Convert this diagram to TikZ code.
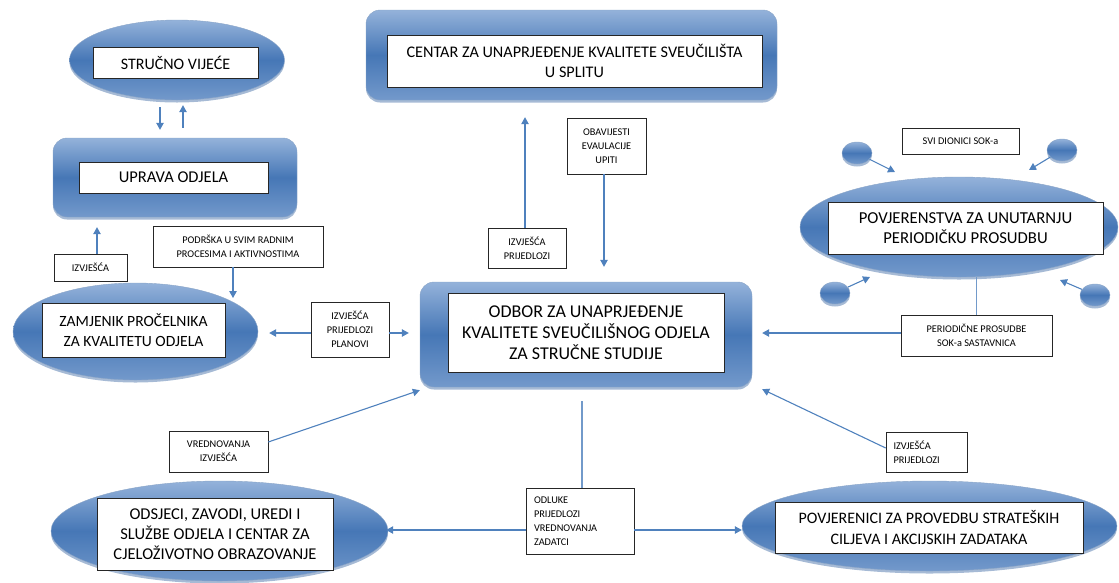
\documentclass[tikz,border=0pt]{standalone}
\usepackage{fontspec}
\setmainfont{Carlito}
\usetikzlibrary{arrows.meta,shapes.geometric,shadows,calc}
\definecolor{blueD}{HTML}{4677B6}
\definecolor{blueL}{HTML}{94B2DA}
\definecolor{blueB}{HTML}{7399CB}
\definecolor{blueE}{HTML}{3A67A2}
\definecolor{arrowc}{HTML}{4F81BD}
\begin{document}
\begin{tikzpicture}[x=1pt,y=-1pt,
  shade3d/.style={top color=blueL, bottom color=blueB, middle color=blueD,
    draw=blueE!60, line width=0.4pt,
    drop shadow={shadow xshift=0pt, shadow yshift=-2.5pt, opacity=0.45, fill=blueE}},
  blob/.style={ellipse, shade3d, inner sep=0pt},
  panel/.style={rectangle, rounded corners=14pt, shade3d, inner sep=0pt},
  inbox/.style={rectangle, draw=black!85, line width=0.7pt, fill=white, align=center, inner sep=1pt},
  lbl/.style={rectangle, draw=black!85, line width=0.6pt, fill=white, align=center, inner sep=1pt,
    font=\fontsize{10.3}{14}\selectfont},
  arr/.style={draw=arrowc, line width=1.1pt, -{Triangle[length=7pt,width=7.5pt]}},
  ln/.style={draw=arrowc!80, line width=1.1pt},
  dot/.style={ellipse, shade3d, minimum width=30pt, minimum height=22pt, inner sep=0pt}
]
\useasboundingbox (0,0) rectangle (1119,582);

% main shapes
\node[blob, minimum width=215pt, minimum height=80pt] (sv) at (177,60) {};
\node[inbox, font=\fontsize{16}{20}\selectfont, minimum width=165pt, minimum height=31pt] (svt) at (175.5,62.5) {STRUČNO VIJEĆE};

\node[panel, minimum width=244pt, minimum height=79pt] (up) at (175,177.5) {};
\node[inbox, font=\fontsize{16.5}{20}\selectfont, minimum width=189pt, minimum height=31pt] (upt) at (173.5,177.5) {UPRAVA ODJELA};

\node[blob, minimum width=245pt, minimum height=97pt] (zam) at (135.5,331.5) {};
\node[inbox, font=\fontsize{15.6}{20}\selectfont, minimum width=183pt, minimum height=54pt] (zamt) at (133.5,330) {ZAMJENIK PROČELNIKA\\ZA KVALITETU ODJELA};

\node[panel, minimum width=411pt, minimum height=90pt] (cen) at (571.5,55) {};
\node[inbox, font=\fontsize{16.2}{20}\selectfont, minimum width=375pt, minimum height=52pt] (cent) at (574.5,61) {CENTAR ZA UNAPRJEĐENJE KVALITETE SVEUČILIŠTA\\U SPLITU};

\node[panel, minimum width=332pt, minimum height=105pt] (od) at (586,334.5) {};
\node[inbox, font=\fontsize{18}{21}\selectfont, minimum width=276pt, minimum height=79pt] (odt) at (586,332.5) {ODBOR ZA UNAPRJEĐENJE\\KVALITETE SVEUČILIŠNOG ODJELA\\ZA STRUČNE STUDIJE};

\node[blob, minimum width=318pt, minimum height=100pt] (pov) at (959,227) {};
\node[inbox, font=\fontsize{16.7}{20.5}\selectfont, minimum width=275pt, minimum height=52pt] (povt) at (965.5,228) {POVJERENSTVA ZA UNUTARNJU\\PERIODIČKU PROSUDBU};

\node[blob, minimum width=337pt, minimum height=100pt] (ods) at (219.5,531) {};
\node[inbox, font=\fontsize{16.5}{20}\selectfont, minimum width=236pt, minimum height=72pt] (odst) at (215,534) {ODSJECI, ZAVODI, UREDI I\\SLUŽBE ODJELA I CENTAR ZA\\CJELOŽIVOTNO OBRAZOVANJE};

\node[blob, minimum width=375pt, minimum height=90pt] (pvn) at (929.5,526) {};
\node[inbox, font=\fontsize{16}{21}\selectfont, minimum width=308pt, minimum height=51pt] (pvnt) at (929,527.5) {POVJERENICI ZA PROVEDBU STRATEŠKIH\\CILJEVA I AKCIJSKIH ZADATAKA};

% small dots
\node[dot] (c1) at (857,153) {};
\node[dot] (c2) at (1062,150) {};
\node[dot] (c3) at (835,293) {};
\node[dot] (c4) at (1095,295) {};

% labels
\node[lbl, minimum width=73pt, minimum height=27pt] (izv1) at (90.5,267.5) {IZVJEŠĆA};
\node[lbl, minimum width=170pt, minimum height=41pt] (podr) at (238,246.5) {PODRŠKA U SVIM RADNIM\\PROCESIMA I AKTIVNOSTIMA};
\node[lbl, minimum width=78pt, minimum height=55pt] (plan) at (350,329.5) {IZVJEŠĆA\\PRIJEDLOZI\\PLANOVI};
\node[lbl, minimum width=78pt, minimum height=40pt] (ip1) at (527,248) {IZVJEŠĆA\\PRIJEDLOZI};
\node[lbl, minimum width=79pt, minimum height=56pt] (obav) at (606.5,146) {OBAVIJESTI\\EVAULACIJE\\UPITI};
\node[lbl, minimum width=117pt, minimum height=26pt] (svi) at (960.5,141) {SVI DIONICI SOK-a};
\node[lbl, minimum width=151pt, minimum height=41pt] (per) at (976.5,335.5) {PERIODIČNE PROSUDBE\\SOK-a SASTAVNICA};
\node[lbl, minimum width=99pt, minimum height=41pt] (vred) at (218.5,451.5) {VREDNOVANJA\\IZVJEŠĆA};
\node[lbl, minimum width=108pt, minimum height=66pt, align=left, text width=92pt] (odl) at (580,521) {ODLUKE\\PRIJEDLOZI\\VREDNOVANJA\\ZADATCI};
\node[lbl, minimum width=81pt, minimum height=40pt, align=left, text width=66pt] (ip2) at (926.5,452) {IZVJEŠĆA\\PRIJEDLOZI};

% tips of floating arrows
\coordinate (d1) at (233,298);
\coordinate (t1) at (895,172);
\coordinate (t2) at (1029,170);
\coordinate (t3) at (870,277);
\coordinate (t4) at (1060,280);

% connectors
\draw[arr, shorten <=7pt, shorten >=8pt] ([xshift=-17pt]sv.south) -- ([xshift=-15pt]up.north);
\draw[arr, shorten <=10pt, shorten >=5pt] ([xshift=8pt]up.north) -- ([xshift=6pt]sv.south);
\draw[arr, shorten >=10pt] ([xshift=6.5pt]izv1.north) -- ([xshift=6.5pt]izv1.north |- up.south);
\draw[arr] ([xshift=-5pt]podr.south) -- (d1);
\draw[arr, shorten >=11pt] ([yshift=-3.5pt]plan.west) -- ([yshift=-3.5pt]plan.west -| zam.east);
\draw[arr, shorten >=11pt] ([yshift=-3.5pt]plan.east) -- ([yshift=-3.5pt]plan.east -| od.west);
\draw[arr, shorten >=17pt] ([xshift=-2pt]ip1.north) -- ([xshift=-2pt]ip1.north |- cen.south);
\draw[arr, shorten >=15pt] ([xshift=-2.5pt]obav.south) -- ([xshift=-2.5pt]obav.south |- od.north);
\draw[arr, shorten >=10pt] ([yshift=2.5pt]per.west) -- ([yshift=2.5pt]per.west -| od.east);
\draw[ln] (per.north) -- (per.north |- pov.south);
\draw[arr] (c1) -- (t1);
\draw[arr] (c2) -- (t2);
\draw[arr] (c3) -- (t3);
\draw[arr] (c4) -- (t4);
\draw[arr] ([yshift=9.5pt]vred.east) -- ([yshift=-3pt]od.south west);
\draw[ln, shorten <=14pt] ([xshift=2pt]odl.north |- od.south) -- ([xshift=2pt]odl.north);
\draw[arr, shorten >=-2pt] ([yshift=-9pt]odl.west) -- ([yshift=-9pt]odl.west -| ods.east);
\draw[arr] ([yshift=-9pt]odl.east) -- ([yshift=-9pt]odl.east -| pvn.west);
\draw[arr] ([yshift=4pt]ip2.west) -- ([xshift=10pt,yshift=-2pt]od.south east);
\end{tikzpicture}
\end{document}
